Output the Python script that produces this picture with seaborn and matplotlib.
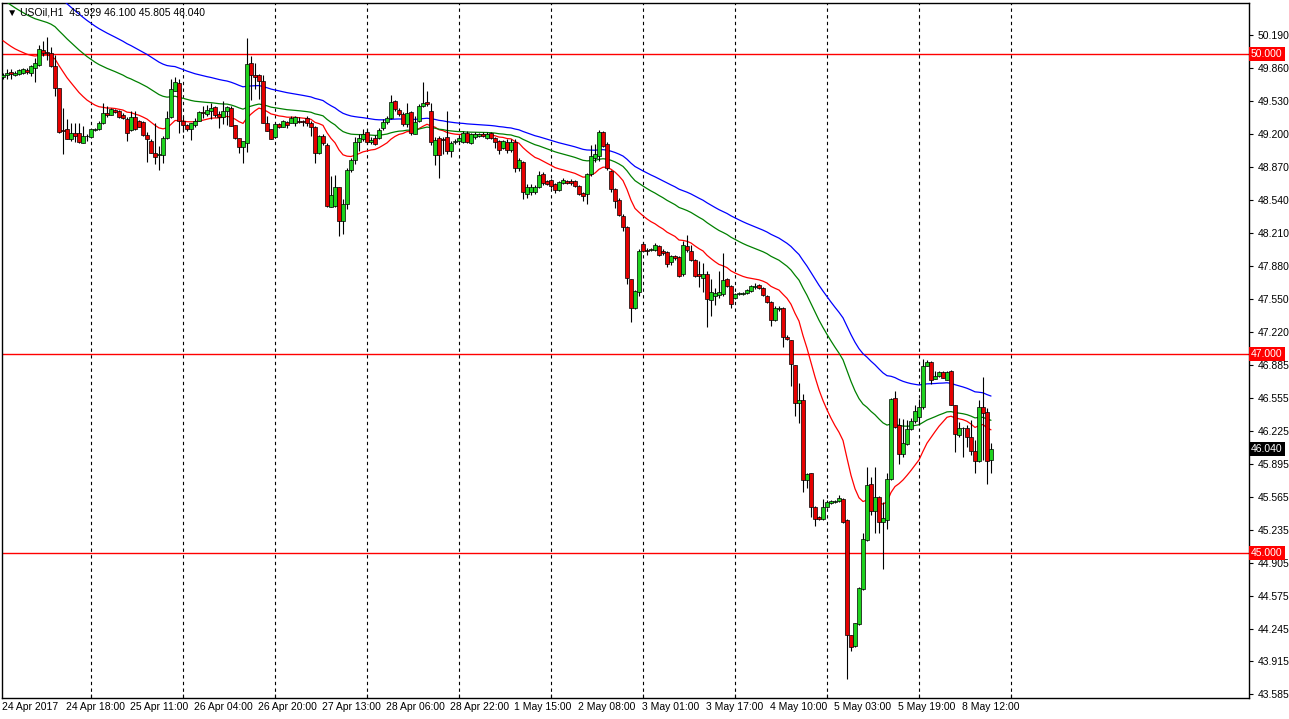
import numpy as np
import pandas as pd
import matplotlib
matplotlib.use("Agg")
import matplotlib.pyplot as plt
import matplotlib.transforms as mtransforms
import seaborn as sns

# USOil H1 candles, one per hour (bar index 0 = 24 Apr 2017)
opens = [
    49.77, 49.79, 49.82, 49.79, 49.80, 49.81, 49.84, 49.81, 49.86, 49.89,
    50.04, 50.02, 50.01, 49.88, 49.66, 49.24, 49.25, 49.15, 49.21, 49.21,
    49.11, 49.18, 49.17, 49.24, 49.25, 49.31, 49.41, 49.39, 49.44, 49.43,
    49.39, 49.35, 49.24, 49.37, 49.33, 49.32, 49.19, 49.13, 49.01, 48.99,
    48.99, 49.16, 49.37, 49.63, 49.71, 49.33, 49.29, 49.25, 49.29, 49.33,
    49.42, 49.40, 49.43, 49.47, 49.40, 49.37, 49.43, 49.46, 49.29, 49.16,
    49.07, 49.11, 49.91, 49.79, 49.79, 49.73, 49.31, 49.25, 49.17, 49.30,
    49.27, 49.32, 49.31, 49.31, 49.33, 49.33, 49.36, 49.31, 49.27, 49.01,
    49.18, 49.09, 48.47, 48.48, 48.67, 48.33, 48.50, 48.84, 48.94, 49.12,
    49.15, 49.22, 49.12, 49.16, 49.16, 49.26, 49.32, 49.36, 49.53, 49.44,
    49.40, 49.30, 49.42, 49.20, 49.33, 49.48, 49.52, 49.43, 48.99, 49.16,
    49.15, 49.17, 49.03, 49.12, 49.13, 49.12, 49.21, 49.11, 49.17, 49.18,
    49.20, 49.16, 49.21, 49.16, 49.13, 49.06, 49.12, 49.04, 49.12, 48.86,
    48.92, 48.60, 48.62, 48.62, 48.67, 48.80, 48.73, 48.74, 48.70, 48.64,
    48.71, 48.73, 48.73, 48.73, 48.68, 48.61, 48.60, 48.80, 48.96, 48.98,
    49.22, 49.10, 48.83, 48.65, 48.54, 48.38, 48.27, 47.75, 47.46, 47.62,
    48.10, 48.04, 48.04, 48.04, 48.08, 48.03, 48.02, 47.92, 47.98, 47.97,
    47.80, 48.08, 48.03, 47.94, 47.80, 47.76, 47.80, 47.54, 47.58, 47.59,
    47.60, 47.75, 47.68, 47.56, 47.60, 47.60, 47.61, 47.63, 47.67, 47.69,
    47.66, 47.58, 47.52, 47.34, 47.45, 47.46, 47.17, 47.14, 46.89, 46.50,
    46.54, 45.73, 45.80, 45.46, 45.36, 45.34, 45.46, 45.50, 45.51, 45.52,
    45.54, 45.33, 44.18, 44.07, 44.29, 44.64, 45.13, 45.69, 45.42, 45.56,
    45.31, 45.33, 45.74, 46.56, 46.28, 45.99, 46.09, 46.24, 46.32, 46.36,
    46.46, 46.88, 46.92, 46.75, 46.78, 46.82, 46.74, 46.83, 46.48, 46.18,
    46.25, 46.25, 46.16, 46.02, 45.92, 46.46, 46.41, 45.929,
]
highs = [
    49.81, 49.85, 49.85, 49.83, 49.85, 49.86, 49.86, 49.89, 49.96, 50.09,
    50.13, 50.17, 50.07, 49.99, 49.66, 49.46, 49.35, 49.31, 49.31, 49.31,
    49.28, 49.20, 49.25, 49.26, 49.33, 49.51, 49.48, 49.46, 49.45, 49.44,
    49.41, 49.37, 49.43, 49.43, 49.34, 49.33, 49.22, 49.15, 49.31, 49.08,
    49.18, 49.43, 49.75, 49.77, 49.75, 49.38, 49.30, 49.31, 49.36, 49.43,
    49.48, 49.49, 49.51, 49.48, 49.43, 49.53, 49.48, 49.48, 49.29, 49.16,
    49.13, 50.16, 49.98, 49.91, 49.80, 49.79, 49.38, 49.25, 49.31, 49.31,
    49.34, 49.33, 49.38, 49.38, 49.37, 49.34, 49.38, 49.33, 49.28, 49.19,
    49.20, 49.11, 48.78, 48.79, 48.67, 48.55, 48.86, 48.96, 49.17, 49.20,
    49.25, 49.25, 49.17, 49.19, 49.26, 49.35, 49.38, 49.59, 49.54, 49.46,
    49.42, 49.51, 49.43, 49.38, 49.50, 49.72, 49.63, 49.51, 49.17, 49.18,
    49.17, 49.43, 49.13, 49.15, 49.18, 49.23, 49.23, 49.21, 49.22, 49.21,
    49.22, 49.22, 49.22, 49.17, 49.14, 49.14, 49.15, 49.15, 49.15, 48.96,
    48.93, 48.70, 48.70, 48.69, 48.83, 48.82, 48.74, 48.75, 48.71, 48.73,
    48.76, 48.74, 48.75, 48.74, 48.69, 48.62, 48.81, 49.09, 49.10, 49.24,
    49.23, 49.12, 48.84, 48.66, 48.56, 48.40, 48.28, 47.75, 47.64, 48.05,
    48.12, 48.06, 48.06, 48.11, 48.09, 48.05, 48.03, 47.99, 47.99, 47.98,
    48.13, 48.19, 48.09, 47.95, 47.93, 47.91, 47.83, 47.75, 47.66, 47.83,
    48.01, 47.76, 47.69, 47.61, 47.62, 47.62, 47.65, 47.69, 47.71, 47.70,
    47.67, 47.59, 47.53, 47.48, 47.48, 47.47, 47.19, 47.14, 46.89, 46.71,
    46.60, 45.80, 45.80, 45.47, 45.37, 45.54, 45.53, 45.53, 45.53, 45.58,
    45.55, 45.34, 44.18, 44.30, 44.66, 45.20, 45.86, 45.76, 45.86, 45.57,
    45.51, 45.80, 46.56, 46.63, 46.35, 46.34, 46.33, 46.35, 46.48, 46.55,
    46.95, 46.94, 46.93, 46.83, 46.83, 46.83, 46.83, 46.84, 46.48, 46.31,
    46.26, 46.28, 46.33, 46.13, 46.54, 46.77, 46.45, 46.100,
]
lows = [
    49.75, 49.75, 49.75, 49.78, 49.79, 49.80, 49.80, 49.78, 49.72, 49.88,
    49.98, 49.94, 49.87, 49.58, 49.21, 49.00, 49.15, 49.13, 49.12, 49.11,
    49.11, 49.13, 49.17, 49.23, 49.24, 49.30, 49.37, 49.39, 49.41, 49.36,
    49.35, 49.13, 49.23, 49.24, 49.27, 49.18, 48.92, 49.01, 48.90, 48.84,
    48.91, 49.15, 49.36, 49.63, 49.21, 49.22, 49.23, 49.14, 49.27, 49.33,
    49.36, 49.38, 49.35, 49.37, 49.26, 49.30, 49.29, 49.28, 49.15, 49.01,
    48.91, 49.02, 49.54, 49.65, 49.55, 49.31, 49.23, 49.15, 49.16, 49.26,
    49.27, 49.26, 49.31, 49.28, 49.31, 49.28, 49.28, 49.18, 48.91, 49.00,
    49.09, 48.47, 48.47, 48.47, 48.18, 48.20, 48.45, 48.82, 48.90, 49.03,
    49.13, 49.10, 49.10, 49.09, 49.15, 49.24, 49.30, 49.35, 49.43, 49.38,
    49.28, 49.27, 49.19, 49.20, 49.32, 49.47, 49.48, 49.09, 48.89, 48.76,
    49.00, 49.00, 48.97, 49.10, 49.12, 49.11, 49.11, 49.10, 49.15, 49.17,
    49.17, 49.15, 49.15, 49.06, 49.00, 49.05, 49.01, 49.02, 48.82, 48.83,
    48.55, 48.56, 48.59, 48.60, 48.66, 48.69, 48.69, 48.66, 48.61, 48.63,
    48.70, 48.70, 48.69, 48.67, 48.59, 48.53, 48.50, 48.78, 48.92, 48.93,
    49.07, 48.84, 48.62, 48.46, 48.38, 48.23, 47.70, 47.32, 47.45, 47.58,
    48.02, 47.99, 48.03, 48.03, 47.98, 47.99, 47.87, 47.89, 47.94, 47.77,
    47.78, 48.02, 47.93, 47.77, 47.67, 47.62, 47.27, 47.38, 47.49, 47.56,
    47.58, 47.67, 47.46, 47.55, 47.59, 47.59, 47.60, 47.62, 47.65, 47.65,
    47.58, 47.51, 47.28, 47.33, 47.43, 47.07, 47.14, 46.68, 46.37, 46.30,
    45.61, 45.65, 45.36, 45.27, 45.33, 45.33, 45.45, 45.49, 45.50, 45.51,
    45.30, 43.74, 44.02, 44.06, 44.28, 44.63, 45.12, 45.38, 45.20, 45.20,
    44.84, 45.24, 45.73, 46.25, 45.89, 45.96, 46.08, 46.23, 46.30, 46.28,
    46.44, 46.88, 46.70, 46.75, 46.77, 46.76, 46.74, 46.48, 46.01, 46.16,
    45.96, 46.06, 45.98, 45.80, 45.91, 45.93, 45.69, 45.805,
]
closes = [
    49.79, 49.81, 49.80, 49.81, 49.84, 49.85, 49.82, 49.88, 49.91, 50.05,
    50.01, 50.01, 49.88, 49.66, 49.22, 49.23, 49.15, 49.21, 49.18, 49.12,
    49.18, 49.18, 49.25, 49.25, 49.31, 49.41, 49.39, 49.45, 49.42, 49.37,
    49.36, 49.21, 49.37, 49.25, 49.27, 49.19, 49.15, 49.01, 48.97, 49.00,
    49.16, 49.36, 49.65, 49.72, 49.33, 49.29, 49.25, 49.31, 49.33, 49.42,
    49.41, 49.44, 49.46, 49.39, 49.37, 49.43, 49.47, 49.28, 49.16, 49.07,
    49.13, 49.90, 49.79, 49.77, 49.73, 49.31, 49.23, 49.15, 49.30, 49.27,
    49.33, 49.29, 49.36, 49.37, 49.32, 49.32, 49.31, 49.27, 49.01, 49.18,
    49.11, 48.48, 48.59, 48.67, 48.33, 48.50, 48.84, 48.94, 49.12, 49.16,
    49.20, 49.12, 49.14, 49.10, 49.24, 49.32, 49.36, 49.52, 49.45, 49.40,
    49.30, 49.41, 49.21, 49.32, 49.48, 49.51, 49.50, 49.12, 49.14, 48.99,
    49.14, 49.03, 49.11, 49.13, 49.16, 49.21, 49.12, 49.20, 49.20, 49.20,
    49.18, 49.20, 49.16, 49.12, 49.04, 49.13, 49.04, 49.12, 48.86, 48.94,
    48.62, 48.67, 48.67, 48.67, 48.79, 48.71, 48.70, 48.68, 48.64, 48.72,
    48.74, 48.71, 48.71, 48.68, 48.60, 48.58, 48.80, 48.98, 49.00, 49.22,
    49.08, 48.86, 48.65, 48.53, 48.39, 48.27, 47.76, 47.46, 47.63, 48.03,
    48.03, 48.03, 48.05, 48.09, 47.99, 48.01, 47.90, 47.98, 47.96, 47.78,
    48.09, 48.04, 47.94, 47.78, 47.78, 47.80, 47.55, 47.62, 47.61, 47.62,
    47.74, 47.68, 47.50, 47.60, 47.61, 47.61, 47.64, 47.68, 47.68, 47.66,
    47.59, 47.52, 47.34, 47.46, 47.46, 47.17, 47.15, 46.90, 46.50, 46.54,
    45.73, 45.79, 45.46, 45.34, 45.34, 45.46, 45.51, 45.52, 45.52, 45.55,
    45.31, 44.18, 44.06, 44.30, 44.65, 45.14, 45.68, 45.42, 45.56, 45.31,
    45.35, 45.74, 46.55, 46.26, 45.99, 46.10, 46.24, 46.32, 46.42, 46.46,
    46.88, 46.92, 46.74, 46.78, 46.82, 46.76, 46.82, 46.48, 46.19, 46.25,
    46.25, 46.16, 46.02, 45.92, 46.46, 46.40, 45.92, 46.040,
]

# moving averages: period and value just before the first bar
ma_periods = [21, 50, 75]
ma_seeds = [50.17, 50.58, 50.95]
ma_colors = ["#ff0000", "#008000", "#0000ff"]

levels = [50.0, 47.0, 45.0]
price_ticks = [50.190, 49.860, 49.530, 49.200, 48.870, 48.540, 48.210, 47.880,
               47.550, 47.220, 46.885, 46.555, 46.225, 45.895, 45.565, 45.235,
               44.905, 44.575, 44.245, 43.915, 43.585]
time_labels = ["24 Apr 2017", "24 Apr 18:00", "25 Apr 11:00", "26 Apr 04:00",
               "26 Apr 20:00", "27 Apr 13:00", "28 Apr 06:00", "28 Apr 22:00",
               "1 May 15:00", "2 May 08:00", "3 May 01:00", "3 May 17:00",
               "4 May 10:00", "5 May 03:00", "5 May 19:00", "8 May 12:00"]
label_step = 16   # bars between time labels
grid_start, grid_step, grid_count = 22, 23, 11

sns.set_style("white")
plt.rcParams["font.family"] = ["Liberation Sans", "DejaVu Sans"]

df = pd.DataFrame({"open": opens, "high": highs, "low": lows, "close": closes})
df["bar"] = np.arange(len(df))

fig = plt.figure(figsize=(12.89, 7.19), dpi=100)
ax = fig.add_axes([2 / 1289, 21 / 719, 1247 / 1289, 695 / 719])

# vertical dashed grid
for k in range(grid_count):
    ax.axvline(grid_start + k * grid_step, color="black", lw=0.8,
               ls=(0, (3, 3)), zorder=1)

# horizontal levels
for lv in levels:
    ax.axhline(lv, color="#ff0000", lw=1.0, zorder=2)

# moving averages
for period, seed, col in zip(ma_periods, ma_seeds, ma_colors):
    s = pd.concat([pd.Series([seed]), df["close"]], ignore_index=True)
    ema = s.ewm(span=period, adjust=False).mean().iloc[1:].to_numpy()
    sns.lineplot(x=df["bar"], y=ema, color=col, lw=0.9, ax=ax, zorder=3,
                 estimator=None, sort=False)

# candles
up = df["close"] >= df["open"]
ax.vlines(df["bar"], df["low"], df["high"], color="black", lw=0.8, zorder=4)
body_lo = np.minimum(df["open"], df["close"])
body_h = np.maximum((df["close"] - df["open"]).abs(), 0.004)
ax.bar(df["bar"], body_h, bottom=body_lo, width=0.78,
       color=np.where(up, "#1ed21e", "#e60000"), edgecolor="black",
       linewidth=0.5, zorder=5)

ax.set_xlim(-0.25, 311.5)
ax.set_ylim(43.549, 50.513)
ax.set_xlabel("")
ax.set_ylabel("")

# right price axis
ax.yaxis.tick_right()
ax.set_yticks(price_ticks)
ax.set_yticklabels([f"{p:.3f}" for p in price_ticks])
ax.tick_params(axis="y", direction="out", length=3, width=0.8, pad=3,
               labelsize=7.5, colors="black", right=True, left=False)

# bottom axis: ticks at grid lines, labels every 16 bars
ax.set_xticks([grid_start + k * grid_step for k in range(grid_count)])
ax.set_xticklabels([])
ax.tick_params(axis="x", direction="in", length=3, width=0.8, bottom=True)
tr = mtransforms.blended_transform_factory(ax.transData, ax.transAxes)
for k, lab in enumerate(time_labels):
    ax.text(k * label_step - 0.2, -0.006, lab, transform=tr, ha="left",
            va="top", fontsize=7.5, color="black")

for sp in ax.spines.values():
    sp.set_color("black")
    sp.set_linewidth(1.0)
    sp.set_visible(True)

# price boxes on the right axis
ytr = ax.get_yaxis_transform()
for lv in levels:
    ax.text(1.0015, lv, f"{lv:.3f}", transform=ytr, ha="left", va="center",
            fontsize=7.5, color="white", zorder=10, clip_on=False,
            bbox=dict(boxstyle="square,pad=0.2", fc="#ff0000", ec="none"))
last = closes[-1]
ax.text(1.0015, last, f"{last:.3f}", transform=ytr, ha="left", va="center",
        fontsize=7.5, color="white", zorder=10, clip_on=False,
        bbox=dict(boxstyle="square,pad=0.2", fc="black", ec="none"))

# symbol header
ax.text(0.004, 0.993, "\u25bc USOil,H1  45.929 46.100 45.805 46.040",
        transform=ax.transAxes, ha="left", va="top", fontsize=7.5,
        color="black", zorder=10)

fig.savefig("out.png", dpi=100, facecolor="white")
